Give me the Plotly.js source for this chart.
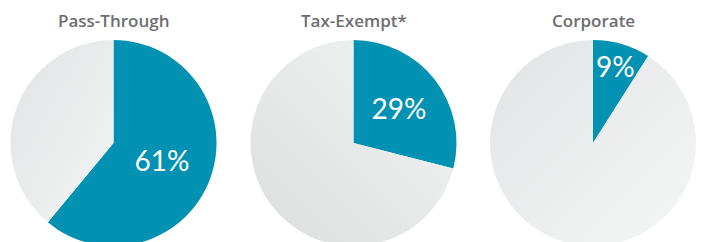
<!DOCTYPE html>
<html>
<head>
<meta charset="utf-8">
<script src="https://cdn.plot.ly/plotly-3.0.1.min.js"></script>
<style>
html,body{margin:0;padding:0;background:#fff;overflow:hidden;}
#chart{width:702px;height:250px;}
</style>
</head>
<body>
<div id="chart"></div>
<script>
// ---- data ----
const groups = ["Pass-Through", "Tax-Exempt*", "Corporate"];
const sharePct = [61, 29, 9];
const sliceLabels = ["Share", "Other"];

// ---- styling ----
const TEAL = "#0091b3";
const GRAY = "#eaebeb";
const W = 702, H = 250;
const centersX = [113.5, 353.5, 593];
const R = 103;
const topY = 40;

const traces = groups.map((g, i) => {
  const x0 = (centersX[i] - R) / W, x1 = (centersX[i] + R) / W;
  const y1 = 1 - topY / H, y0 = 1 - (topY + 2 * R) / H;
  return {
    type: "pie",
    name: g,
    labels: sliceLabels,
    values: [sharePct[i], 100 - sharePct[i]],
    text: [sharePct[i] + "%", ""],
    texttemplate: ["%{text}", ""],
    textinfo: "text",
    textposition: ["inside", "none"],
    insidetextorientation: "horizontal",
    insidetextfont: {family: "Lato, 'Open Sans', sans-serif", size: 28, color: "#ffffff"},
    sort: false,
    direction: "clockwise",
    rotation: 0,
    marker: {colors: [TEAL, GRAY], line: {width: 0}},
    hoverinfo: "none",
    showlegend: false,
    domain: {x: [x0, x1], y: [y0, y1]}
  };
});

const annotations = groups.map((g, i) => ({
  text: g,
  xref: "paper", yref: "paper",
  x: centersX[i] / W, y: 1 - 21 / H,
  xanchor: "center", yanchor: "middle",
  showarrow: false,
  font: {family: "'Open Sans', sans-serif", size: 17, color: "#6d6e70", weight: 600}
}));

const layout = {
  width: W, height: H,
  margin: {l: 0, r: 0, t: 0, b: 0},
  paper_bgcolor: "#ffffff",
  plot_bgcolor: "#ffffff",
  showlegend: false,
  uniformtext: {minsize: 28, mode: "show"},
  annotations: annotations
};

const gradDirs = [
  {x1: "0", y1: "0", x2: "1", y2: "1", a: "#e2e3e4", b: "#f3f4f4"},
  {x1: "0", y1: "1", x2: "1", y2: "0", a: "#dcdddd", b: "#f3f4f4"},
  {x1: "0", y1: "0", x2: "1", y2: "1", a: "#e2e3e4", b: "#f5f6f6"}
];

Plotly.newPlot("chart", traces, layout, {staticPlot: true, displayModeBar: false}).then(gd => {
  const svg = gd.querySelector("svg.main-svg");
  const NS = "http://www.w3.org/2000/svg";
  let defs = svg.querySelector("defs");
  if (!defs) { defs = document.createElementNS(NS, "defs"); svg.insertBefore(defs, svg.firstChild); }
  gradDirs.forEach((d, i) => {
    const lg = document.createElementNS(NS, "linearGradient");
    lg.setAttribute("id", "piegrad" + i);
    lg.setAttribute("x1", d.x1); lg.setAttribute("y1", d.y1);
    lg.setAttribute("x2", d.x2); lg.setAttribute("y2", d.y2);
    [[0, d.a], [1, d.b]].forEach(([o, c]) => {
      const s = document.createElementNS(NS, "stop");
      s.setAttribute("offset", o); s.setAttribute("stop-color", c);
      lg.appendChild(s);
    });
    defs.appendChild(lg);
  });
  const tr = gd.querySelectorAll(".pielayer .trace");
  tr.forEach((t, i) => {
    const paths = t.querySelectorAll(".slice path.surface");
    if (paths[1]) paths[1].style.fill = "url(#piegrad" + i + ")";
  });
});
</script>
</body>
</html>
